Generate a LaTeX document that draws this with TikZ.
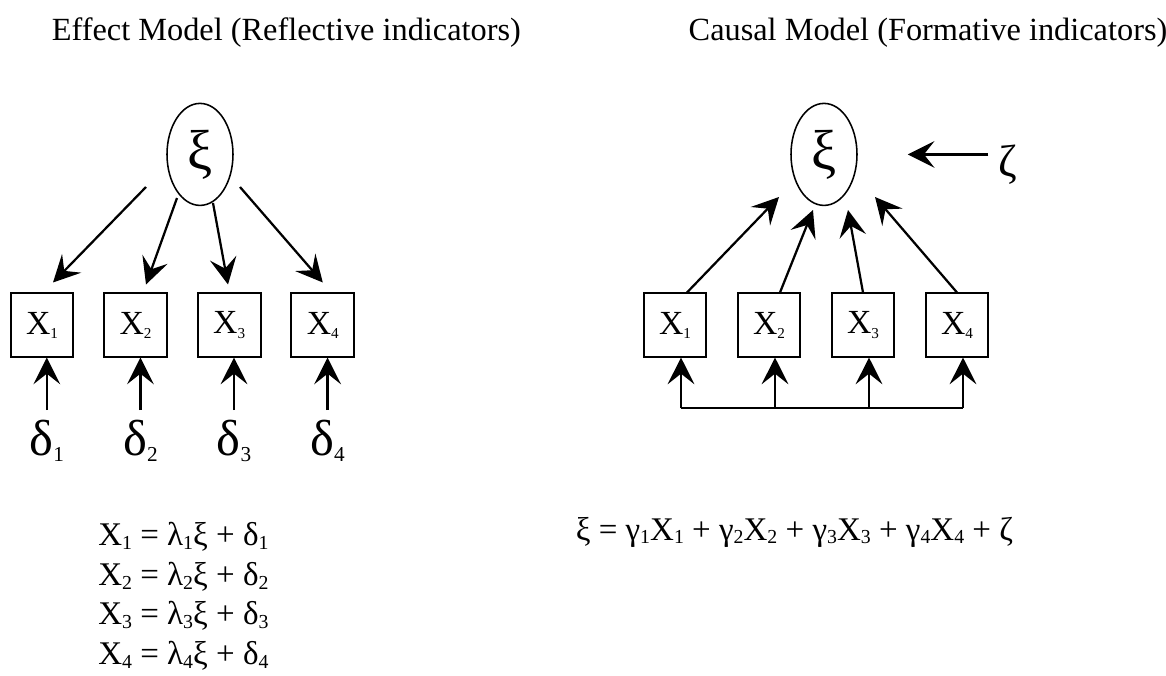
\documentclass[tikz,border=0pt]{standalone}
\usepackage{fontspec}
\setmainfont{Liberation Serif}
\usepackage{graphicx}
\usepackage{tikz}
\usetikzlibrary{arrows.meta}
\usetikzlibrary{shapes.geometric, positioning, calc}

\newcommand{\ix}[2][0.5]{\raisebox{-0.12em}{\scalebox{#1}{#2}}}

\begin{document}
\begin{tikzpicture}[
    latent/.style={ellipse, draw, line width=1.1pt, minimum width=1.65cm, minimum height=2.55cm, inner sep=0pt, font=\fontsize{40}{44}\selectfont},
    indicator/.style={rectangle, draw, line width=1.3pt, minimum width=1.57cm, minimum height=1.58cm, inner sep=0pt, font=\fontsize{24}{28}\selectfont},
    errterm/.style={anchor=north, inner sep=0.25cm, font=\fontsize{36}{40}\selectfont},
    arr/.style={-{Stealth[length=19pt, width=19pt, inset=7.5pt]}, line width=1.6pt},
    heading/.style={anchor=base, font=\fontsize{23}{28}\selectfont},
    eq/.style={inner sep=0pt, font=\fontsize{23.5}{28}\selectfont},
  ]
  \useasboundingbox (0,0) rectangle (29.15,-16.875);

  % titles
  \node[heading] (titleL) at (7.16,-1.0) {Effect Model (Reflective indicators)};
  \node[heading] (titleR) at (23.2,-1.0) {Causal Model (Formative indicators)};

  % effect model
  \node[latent] (xiL) at (5.0,-3.86) {ξ};
  \foreach \i/\xx in {1/1.05, 2/3.39, 3/5.73, 4/8.07} {
    \node[indicator] (a\i) at (\xx,-8.125) {X\ix[0.45]{\i}};
    \node[errterm] (d\i) at (\xx+0.12,-10.25) {δ\ix[0.42]{\i}};
    \draw[arr] (d\i.north) -- (a\i.south -| d\i.north);
  }
  \draw[arr] ($(xiL)+(-1.35,-0.815)$) -- ($(a1.north)+(0.275,0.25)$);
  \draw[arr] ($(xiL)+(-0.575,-1.09)$) -- ($(a2.north)+(0.26,0.2)$);
  \draw[arr] ($(xiL)+(0.325,-1.215)$) -- ($(a3.north)+(-0.03,0.2)$);
  \draw[arr] ($(xiL)+(1.0,-0.815)$) -- ($(a4.north)+(0,0.25)$);

  % causal model
  \node[latent] (xiR) at (20.6,-3.86) {ξ};
  \node[font=\fontsize{32}{36}\selectfont, inner sep=0.25cm] (zeta) at (25.2,-4.125) {ζ};
  \draw[arr, shorten >=1.25cm] (zeta.west |- xiR) -- (xiR.east);
  \coordinate (bus) at (0,-10.2);
  \foreach \i/\xx in {1/16.875, 2/19.225, 3/21.575, 4/23.925} {
    \node[indicator] (b\i) at (\xx,-8.125) {X\ix[0.45]{\i}};
    \coordinate (f\i) at ($(b\i.south)+(0.15,0)$);
    \draw[arr] (f\i |- bus) -- (f\i);
  }
  \draw[line width=1.6pt] (f1 |- bus) -- (f4 |- bus);
  \draw[arr] ([xshift=0.3cm]b1.north) -- ($(xiR)+(-1.125,-1.065)$);
  \draw[arr] ([xshift=0.275cm]b2.north) -- ($(xiR)+(-0.275,-1.39)$);
  \draw[arr] (b3.north) -- ($(xiR)+(0.6,-1.39)$);
  \draw[arr] (b4.north) -- ($(xiR)+(1.275,-1.065)$);

  % equations
  \foreach \i in {1,...,4}
    \node[eq, anchor=base west] (eq\i) at (2.45,-12.65-0.99*\i) {X\ix[0.6]{\i} = λ\ix[0.6]{\i}ξ + δ\ix[0.6]{\i}};
  \node[eq, anchor=base] (eqR) at (19.86,-13.5) {ξ = γ\ix[0.6]{1}X\ix[0.6]{1} + γ\ix[0.6]{2}X\ix[0.6]{2} + γ\ix[0.6]{3}X\ix[0.6]{3} + γ\ix[0.6]{4}X\ix[0.6]{4} + ζ};
\end{tikzpicture}
\end{document}
